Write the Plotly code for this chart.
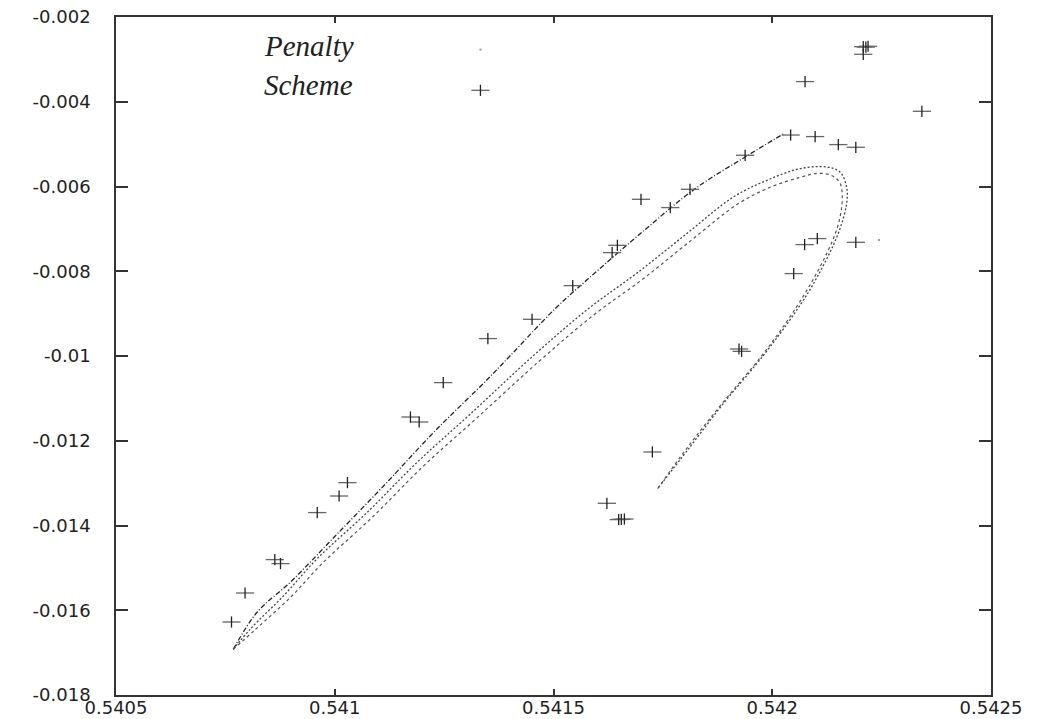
import plotly.graph_objects as go

# ---- data ----
# upper straight-ish branch
line_a_x = [0.540768, 0.540823, 0.540899, 0.540999, 0.541113, 0.541227, 0.541349,
            0.541402, 0.541504, 0.541580, 0.541694, 0.541824, 0.541938, 0.542029]
line_a_y = [-0.016922, -0.016041, -0.015333, -0.014271, -0.013051, -0.011793, -0.010550,
            -0.009983, -0.008881, -0.008173, -0.007152, -0.006050, -0.005304, -0.004737]

# loop, outer trace
loop_b_x = [0.540768, 0.540808, 0.540884, 0.540960, 0.541075, 0.541189, 0.541311, 0.541455,
            0.541580, 0.541694, 0.541809, 0.541911, 0.541988, 0.542064, 0.542125,
            0.542155, 0.542170, 0.542170, 0.542155, 0.542136, 0.542113, 0.542083, 0.542037,
            0.541980, 0.541885, 0.541809, 0.541738]
loop_b_y = [-0.016922, -0.016433, -0.015647, -0.014781, -0.013681, -0.012501, -0.011359, -0.009983,
            -0.008881, -0.008018, -0.007074, -0.006248, -0.005854, -0.005578, -0.005540,
            -0.005658, -0.006012, -0.006404, -0.006993, -0.007465, -0.007937, -0.008490, -0.009198,
            -0.009983, -0.011163, -0.012185, -0.013129]

# loop, inner trace
loop_c_x = [0.540768, 0.540819, 0.540899, 0.540974, 0.541088, 0.541202, 0.541324, 0.541467,
            0.541591, 0.541705, 0.541819, 0.541922, 0.541995, 0.542064, 0.542105,
            0.542137, 0.542155, 0.542160, 0.542157, 0.542146, 0.542128, 0.542105, 0.542075,
            0.542032, 0.541975, 0.541880, 0.541803, 0.541738]
loop_c_y = [-0.016922, -0.016450, -0.015694, -0.014868, -0.013783, -0.012603, -0.011470, -0.010125,
            -0.009039, -0.008178, -0.007234, -0.006408, -0.006019, -0.005783, -0.005688,
            -0.005748, -0.005924, -0.006231, -0.006609, -0.007057, -0.007506, -0.007978, -0.008520,
            -0.009205, -0.010007, -0.011187, -0.012202, -0.013129]

# crosses (second scheme)
cross_x = [0.541333, 0.541451, 0.541350, 0.542208, 0.542214, 0.542219, 0.542208, 0.542075,
           0.542342, 0.542042, 0.542098, 0.542151, 0.542191, 0.541938, 0.541812, 0.541700,
           0.541767, 0.541646, 0.541634, 0.541544, 0.542103, 0.542074, 0.542191, 0.542049,
           0.541924, 0.541930, 0.541248, 0.541173, 0.541193, 0.541029, 0.541010, 0.540960,
           0.540863, 0.540876, 0.540795, 0.540764, 0.541726, 0.541622, 0.541649, 0.541655,
           0.541662]
cross_y = [-0.003730, -0.009134, -0.009589, -0.002700, -0.002710, -0.002690, -0.002880, -0.003524,
           -0.004225, -0.004785, -0.004822, -0.005011, -0.005075, -0.005264, -0.006066, -0.006302,
           -0.006498, -0.007388, -0.007560, -0.008339, -0.007229, -0.007371, -0.007317, -0.008055,
           -0.009835, -0.009890, -0.010628, -0.011440, -0.011558, -0.012988, -0.013304, -0.013695,
           -0.014805, -0.014899, -0.015593, -0.016277, -0.012265, -0.013476, -0.013861, -0.013854,
           -0.013847]

# isolated tiny dots
dot_x = [0.541333, 0.542244]
dot_y = [-0.002769, -0.007262]

x_tickvals = [0.5405, 0.541, 0.5415, 0.542, 0.5425]
x_ticktext = ["0.5405", "0.541", "0.5415", "0.542", "0.5425"]
y_tickvals = [-0.002, -0.004, -0.006, -0.008, -0.010, -0.012, -0.014, -0.016, -0.018]
y_ticktext = ["-0.002", "-0.004", "-0.006", "-0.008", "-0.01", "-0.012", "-0.014", "-0.016", "-0.018"]

label_lines = ["Penalty", "Scheme"]

# ---- figure ----
fig = go.Figure()

fig.add_trace(go.Scatter(x=line_a_x, y=line_a_y, mode="lines", line_shape="spline",
                         line=dict(color="#222222", width=1.3, dash="5px,2px,1px,2px"),
                         hoverinfo="skip", showlegend=False))
fig.add_trace(go.Scatter(x=loop_b_x, y=loop_b_y, mode="lines", line_shape="spline",
                         line=dict(color="#444444", width=1.3, dash="2px,2px"),
                         hoverinfo="skip", showlegend=False))
fig.add_trace(go.Scatter(x=loop_c_x, y=loop_c_y, mode="lines", line_shape="spline",
                         line=dict(color="#555555", width=1.2, dash="3px,3px"),
                         hoverinfo="skip", showlegend=False))

# crosses: horizontal arm wider than vertical arm
fig.add_trace(go.Scatter(x=cross_x, y=cross_y, mode="markers",
                         marker=dict(symbol="line-ew", size=13,
                                     line=dict(color="#666666", width=1.3)),
                         hoverinfo="skip", showlegend=False))
fig.add_trace(go.Scatter(x=cross_x, y=cross_y, mode="markers",
                         marker=dict(symbol="line-ns", size=8,
                                     line=dict(color="#222222", width=1.3)),
                         hoverinfo="skip", showlegend=False))
fig.add_trace(go.Scatter(x=dot_x, y=dot_y, mode="markers",
                         marker=dict(symbol="square", size=2, color="#999999"),
                         hoverinfo="skip", showlegend=False))

fig.add_annotation(x=0.540834, y=-0.002691, xref="x", yref="y", text=label_lines[0],
                   showarrow=False, xanchor="left", yanchor="middle",
                   font=dict(family="Liberation Serif", size=29, color="#222222", style="italic"))
fig.add_annotation(x=0.540834, y=-0.003612, xref="x", yref="y", text=label_lines[1],
                   showarrow=False, xanchor="left", yanchor="middle",
                   font=dict(family="Liberation Serif", size=29, color="#222222", style="italic"))

axis_font = dict(family="DejaVu Sans", size=18, color="#222222")
fig.update_xaxes(range=[0.5405, 0.5425], tickvals=x_tickvals, ticktext=x_ticktext,
                 ticks="inside", ticklen=6, tickwidth=1.5, tickcolor="#333333",
                 showline=True, linecolor="#333333", linewidth=1.5, mirror="ticks",
                 showgrid=False, zeroline=False, tickfont=axis_font, ticklabelstandoff=-4,
                 automargin=False)
fig.update_yaxes(range=[-0.018, -0.002], tickvals=y_tickvals, ticktext=y_ticktext,
                 ticks="inside", ticklen=12, tickwidth=1.5, tickcolor="#333333",
                 showline=True, linecolor="#333333", linewidth=1.5, mirror="ticks",
                 showgrid=False, zeroline=False, tickfont=axis_font, ticklabelstandoff=20,
                 automargin=False)

fig.update_layout(width=1041, height=719, autosize=False,
                  margin=dict(l=116, r=50, t=17, b=24, pad=0),
                  paper_bgcolor="white", plot_bgcolor="white")

fig.write_html("out.html", config={"displayModeBar": False},
               post_script="document.body.style.margin='0';")
